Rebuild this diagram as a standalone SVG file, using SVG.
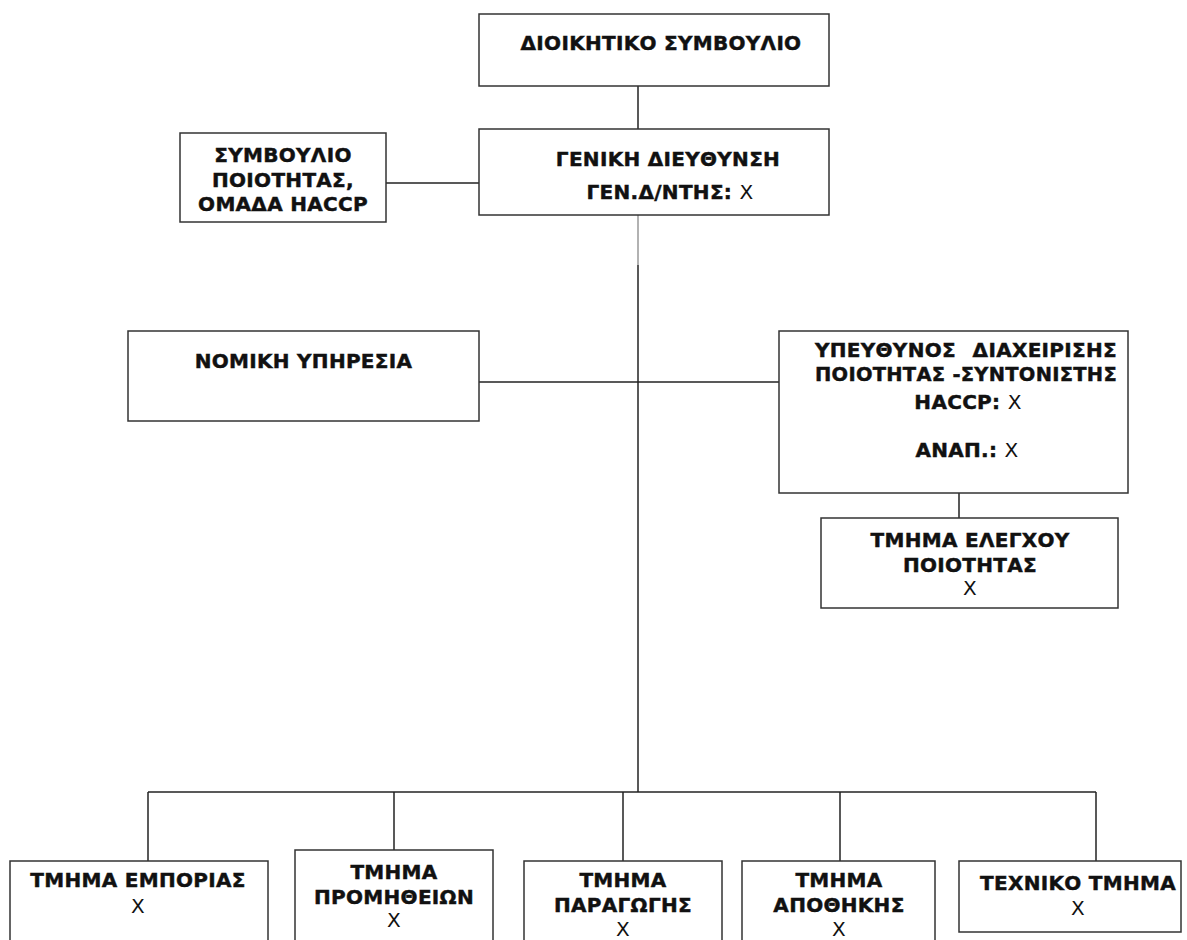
<svg xmlns="http://www.w3.org/2000/svg" width="1187" height="940" viewBox="0 0 1187 940">
<style>
.box{fill:#fff;stroke:#333;stroke-width:1.5}
.t{font-family:"DejaVu Sans",Verdana,sans-serif;font-size:20px;font-weight:bold;letter-spacing:0.3px;fill:#111;stroke:#111;stroke-width:0.45;text-anchor:middle}
.r{font-weight:normal;stroke-width:0}
.ln{stroke:#222;stroke-width:1.5;fill:none}
.gr{stroke:#999;stroke-width:1.5;fill:none}
</style>
<rect width="1187" height="940" fill="#fff"/>
<g id="connectors">
<line class="ln" x1="638" y1="86" x2="638" y2="129"/>
<line class="ln" x1="386" y1="183" x2="481" y2="183"/>
<line class="gr" x1="638" y1="215" x2="638" y2="265"/>
<line class="ln" x1="638" y1="265" x2="638" y2="792"/>
<line class="ln" x1="479" y1="382" x2="779" y2="382"/>
<line class="ln" x1="959" y1="493" x2="959" y2="518" stroke="#555"/>
<line class="ln" x1="148" y1="792" x2="1096" y2="792"/>
<line class="ln" x1="148" y1="792" x2="148" y2="861"/>
<line class="ln" x1="394" y1="792" x2="394" y2="850"/>
<line class="ln" x1="623" y1="792" x2="623" y2="861"/>
<line class="ln" x1="840" y1="792" x2="840" y2="861"/>
<line class="ln" x1="1096" y1="792" x2="1096" y2="861"/>
</g>
<g id="n-board">
<rect class="box" x="479" y="14" width="350" height="72"/>
<text class="t" x="661" y="50">ΔΙΟΙΚΗΤΙΚΟ ΣΥΜΒΟΥΛΙΟ</text>
</g>
<g id="n-gm">
<rect class="box" x="479" y="129" width="350" height="86"/>
<text class="t" x="668" y="166">ΓΕΝΙΚΗ ΔΙΕΥΘΥΝΣΗ</text>
<text class="t" x="670" y="199">ΓΕΝ.Δ/ΝΤΗΣ: <tspan class="r">Χ</tspan></text>
</g>
<g id="n-quality-council">
<rect class="box" x="180" y="133" width="206" height="89"/>
<text class="t" x="283" y="162">ΣΥΜΒΟΥΛΙΟ</text>
<text class="t" x="283" y="187">ΠΟΙΟΤΗΤΑΣ,</text>
<text class="t" x="283" y="211">ΟΜΑΔΑ HACCP</text>
</g>
<g id="n-legal">
<rect class="box" x="128" y="331" width="351" height="90"/>
<text class="t" x="303.5" y="368">ΝΟΜΙΚΗ ΥΠΗΡΕΣΙΑ</text>
</g>
<g id="n-qm">
<rect class="box" x="779" y="331" width="349" height="162"/>
<text class="t" y="357"><tspan x="815" text-anchor="start">ΥΠΕΥΘΥΝΟΣ</tspan><tspan x="1117" text-anchor="end">ΔΙΑΧΕΙΡΙΣΗΣ</tspan></text>
<text class="t" x="966" y="381" textLength="302" lengthAdjust="spacingAndGlyphs">ΠΟΙΟΤΗΤΑΣ -ΣΥΝΤΟΝΙΣΤΗΣ</text>
<text class="t" x="968" y="409">HACCP: <tspan class="r">Χ</tspan></text>
<text class="t" x="967" y="457">ΑΝΑΠ.: <tspan class="r">Χ</tspan></text>
</g>
<g id="n-qc">
<rect class="box" x="821" y="518" width="297" height="90"/>
<text class="t" x="970" y="547">ΤΜΗΜΑ ΕΛΕΓΧΟΥ</text>
<text class="t" x="970" y="572">ΠΟΙΟΤΗΤΑΣ</text>
<text class="t r" x="970" y="595">Χ</text>
</g>
<g id="n-commerce">
<rect class="box" x="10" y="861" width="258" height="100"/>
<text class="t" x="138" y="887">ΤΜΗΜΑ ΕΜΠΟΡΙΑΣ</text>
<text class="t r" x="138" y="913">Χ</text>
</g>
<g id="n-procurement">
<rect class="box" x="295" y="850" width="198" height="110"/>
<text class="t" x="394" y="879">ΤΜΗΜΑ</text>
<text class="t" x="394" y="904">ΠΡΟΜΗΘΕΙΩΝ</text>
<text class="t r" x="394" y="927">Χ</text>
</g>
<g id="n-production">
<rect class="box" x="524" y="861" width="198" height="100"/>
<text class="t" x="623" y="887">ΤΜΗΜΑ</text>
<text class="t" x="623" y="912">ΠΑΡΑΓΩΓΗΣ</text>
<text class="t r" x="623" y="936">Χ</text>
</g>
<g id="n-warehouse">
<rect class="box" x="742" y="861" width="193" height="100"/>
<text class="t" x="839" y="887">ΤΜΗΜΑ</text>
<text class="t" x="839" y="912">ΑΠΟΘΗΚΗΣ</text>
<text class="t r" x="839" y="936">Χ</text>
</g>
<g id="n-technical">
<rect class="box" x="959" y="861" width="222" height="71"/>
<text class="t" x="1078" y="890">ΤΕΧΝΙΚΟ ΤΜΗΜΑ</text>
<text class="t r" x="1078" y="915">Χ</text>
</g>
</svg>
